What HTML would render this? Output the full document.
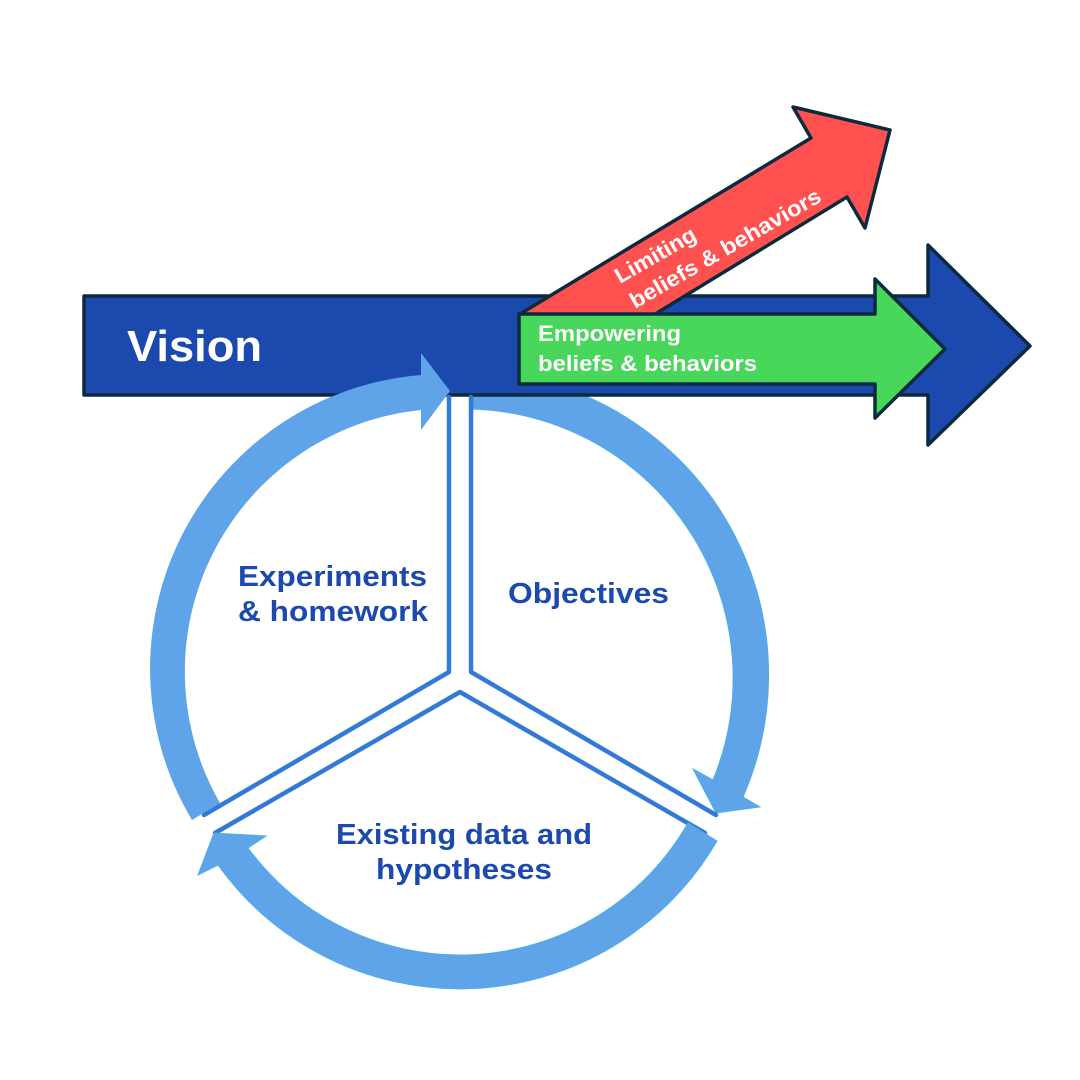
<!DOCTYPE html>
<html>
<head>
<meta charset="utf-8">
<style>
html,body{margin:0;padding:0;background:#fff;width:1080px;height:1080px;overflow:hidden}
svg{display:block}
text{font-family:"Liberation Sans",sans-serif;font-weight:bold}
</style>
</head>
<body>
<svg width="1080" height="1080" viewBox="0 0 1080 1080" xmlns="http://www.w3.org/2000/svg">
<rect width="1080" height="1080" fill="#fff"/>

<!-- Right arc (behind bar) -->
<path d="M470 385 L556 385 A304 304 0 0 1 743 797 L760 807 L716 813 L693 769 L713 780 A269 269 0 0 0 470 409 Z" fill="#5FA3E9" stroke="#4DB0E6" stroke-width="1"/>

<!-- Vision arrow -->
<polygon points="84,296 928,296 928,245 1030,346 928,445 928,395 84,395" fill="#1C49AE" stroke="#0B2A3F" stroke-width="3.5" stroke-linejoin="round"/>

<!-- Red arrow -->
<polygon points="520,314 811,138 793,107 890,130 865,228 847,197 652,316" fill="#FF5250" stroke="#0B2A3F" stroke-width="3.5" stroke-linejoin="round"/>

<!-- Green arrow -->
<polygon points="519,314 875,314 875,279 945,349 875,418 875,384 519,384" fill="#48D65B" stroke="#0B2A3F" stroke-width="3.5" stroke-linejoin="round"/>

<!-- Sector lines -->
<g fill="none" stroke="#337AD8" stroke-width="4.5" stroke-linejoin="round" stroke-linecap="round">
<polyline points="449,397 449,672 204,815"/>
<polyline points="471,397 471,672 716,815"/>
<polyline points="215,833 460,692 705,833"/>
</g>

<!-- Left arc with arrow -->
<path d="M192 820 A294.5 294.5 0 0 1 421 375 L421 353 L450 391 L421 430 L421 410 A263 263 0 0 0 220 803 Z" fill="#5FA3E9"/>

<!-- Bottom arc with arrow -->
<path d="M717 841 A297.8 297.8 0 0 1 218 865 L198 875 L214 833 L266 836 L248 848 A263.2 263.2 0 0 0 688 823 Z" fill="#5FA3E9" stroke="#4DB0E6" stroke-width="1"/>

<!-- Labels -->
<text x="127" y="361" font-size="44" fill="#fff" textLength="135" lengthAdjust="spacingAndGlyphs">Vision</text>
<text x="538" y="341" font-size="22" fill="#fff" textLength="143" lengthAdjust="spacingAndGlyphs">Empowering</text>
<text x="538" y="371" font-size="22" fill="#fff" textLength="219" lengthAdjust="spacingAndGlyphs">beliefs &amp; behaviors</text>
<g transform="translate(620,284) rotate(-30)">
<text x="0" y="0" font-size="22" fill="#fff" textLength="90" lengthAdjust="spacingAndGlyphs">Limiting</text>
</g>
<g transform="translate(635,309) rotate(-30)">
<text x="0" y="0" font-size="22" fill="#fff" textLength="217" lengthAdjust="spacingAndGlyphs">beliefs &amp; behaviors</text>
</g>
<g font-size="29" fill="#1C49AE">
<text x="238" y="586" textLength="189" lengthAdjust="spacingAndGlyphs">Experiments</text>
<text x="238" y="621" textLength="190" lengthAdjust="spacingAndGlyphs">&amp; homework</text>
<text x="508" y="603" textLength="161" lengthAdjust="spacingAndGlyphs">Objectives</text>
<text x="336" y="844" textLength="256" lengthAdjust="spacingAndGlyphs">Existing data and</text>
<text x="376" y="879" textLength="176" lengthAdjust="spacingAndGlyphs">hypotheses</text>
</g>
</svg>
</body>
</html>
